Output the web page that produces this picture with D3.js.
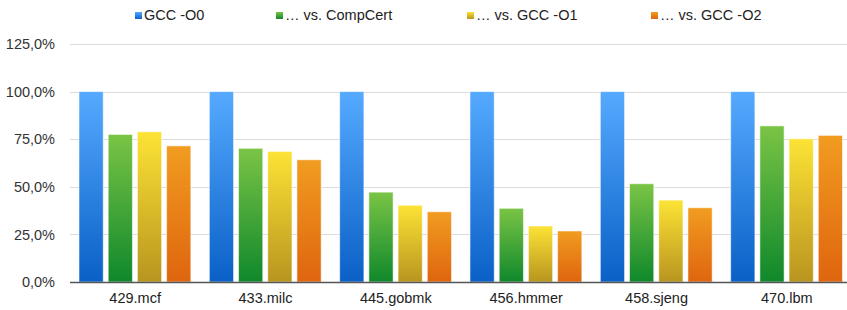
<!DOCTYPE html>
<html><head><meta charset="utf-8">
<script src="https://cdn.jsdelivr.net/npm/d3@7"></script>
<style>body{margin:0;background:#fff}svg{display:block;font-family:"Liberation Sans",Arial,sans-serif}</style>
</head><body><svg id="c" width="847" height="310"></svg>
<script>
const categories = ["429.mcf","433.milc","445.gobmk","456.hmmer","458.sjeng","470.lbm"];
const seriesNames = ["GCC -O0","… vs. CompCert","… vs. GCC -O1","… vs. GCC -O2"];
const gccO0 = [100,100,100,100,100,100];
const vsCompCert = [77.5,70.2,47.2,38.7,51.6,82.0];
const vsGccO1 = [78.9,68.6,40.3,29.4,43.0,75.2];
const vsGccO2 = [71.5,64.2,36.9,26.8,39.0,77.0];
const yTicks = [0,25,50,75,100,125];
const seriesValues = [gccO0, vsCompCert, vsGccO1, vsGccO2];
const grads = [["#55aaff","#0a60c6"],["#7ac445","#0f882b"],["#fce335","#b8951f"],["#f19c20","#df650e"]];
const legendX = [135,276,467,651];

const svg = d3.select("#c");
const FS = 14.5;
const x0 = d3.scaleBand().domain(categories).range([70, 852]).paddingInner(0).paddingOuter(0);
const x1 = d3.scaleBand().domain(d3.range(4)).range([9, x0.bandwidth()-9.5]).paddingInner(0.17).paddingOuter(0);
const y = d3.scaleLinear().domain([0,125]).range([282, 44]);

const defs = svg.append("defs");
grads.forEach((g,i)=>{
  const lg = defs.append("linearGradient").attr("id","g"+i).attr("x1",0).attr("y1",0).attr("x2",0).attr("y2",1);
  lg.append("stop").attr("offset","0%").attr("stop-color",g[0]);
  lg.append("stop").attr("offset","100%").attr("stop-color",g[1]);
});

// grid
svg.append("g").selectAll("line").data(yTicks.filter(d=>d>0)).join("line")
  .attr("x1",70).attr("x2",847).attr("y1",d=>Math.round(y(d))+0.5).attr("y2",d=>Math.round(y(d))+0.5)
  .attr("stroke","#dcdcdc").attr("stroke-width",1);

// y labels
const yAxis = d3.axisLeft(y).tickValues(yTicks).tickSize(0).tickPadding(0)
  .tickFormat(d=>d3.format(".1f")(d).replace(".",",")+"%");
const ya = svg.append("g").attr("transform","translate(55,0)").call(yAxis);
ya.select(".domain").remove();
ya.selectAll("text").attr("font-size",FS).attr("fill","#333").attr("font-family","Liberation Sans, Arial, sans-serif");

// bars
const groups = svg.append("g").selectAll("g").data(categories).join("g")
  .attr("transform",d=>`translate(${x0(d)},0)`);
groups.selectAll("rect").data((d,ci)=>seriesValues.map((s,si)=>({si, v:s[ci]}))).join("rect")
  .attr("x",d=>x1(d.si)).attr("width",x1.bandwidth())
  .attr("y",d=>y(d.v)).attr("height",d=>y(0)-y(d.v))
  .attr("fill",d=>`url(#g${d.si})`)
  .attr("stroke","rgba(255,255,255,0.55)").attr("stroke-width",1);

// x axis
const xAxis = d3.axisBottom(x0).tickSize(0).tickPadding(11);
const xa = svg.append("g").attr("transform","translate(0,282)").call(xAxis);
xa.select(".domain").attr("d","M70,0.5H847").attr("stroke","#555").attr("stroke-width",1.5);
xa.selectAll("text").attr("font-size",FS).attr("fill","#222").attr("font-family","Liberation Sans, Arial, sans-serif");

// legend
const lg = svg.append("g").selectAll("g").data(seriesNames).join("g")
  .attr("transform",(d,i)=>`translate(${legendX[i]},0)`);
lg.append("rect").attr("x",0).attr("y",12).attr("width",7).attr("height",7).attr("fill",(d,i)=>`url(#g${i})`);
lg.append("text").attr("x",9).attr("y",20).attr("font-size",FS).attr("fill","#222").text(d=>d);
</script></body></html>
